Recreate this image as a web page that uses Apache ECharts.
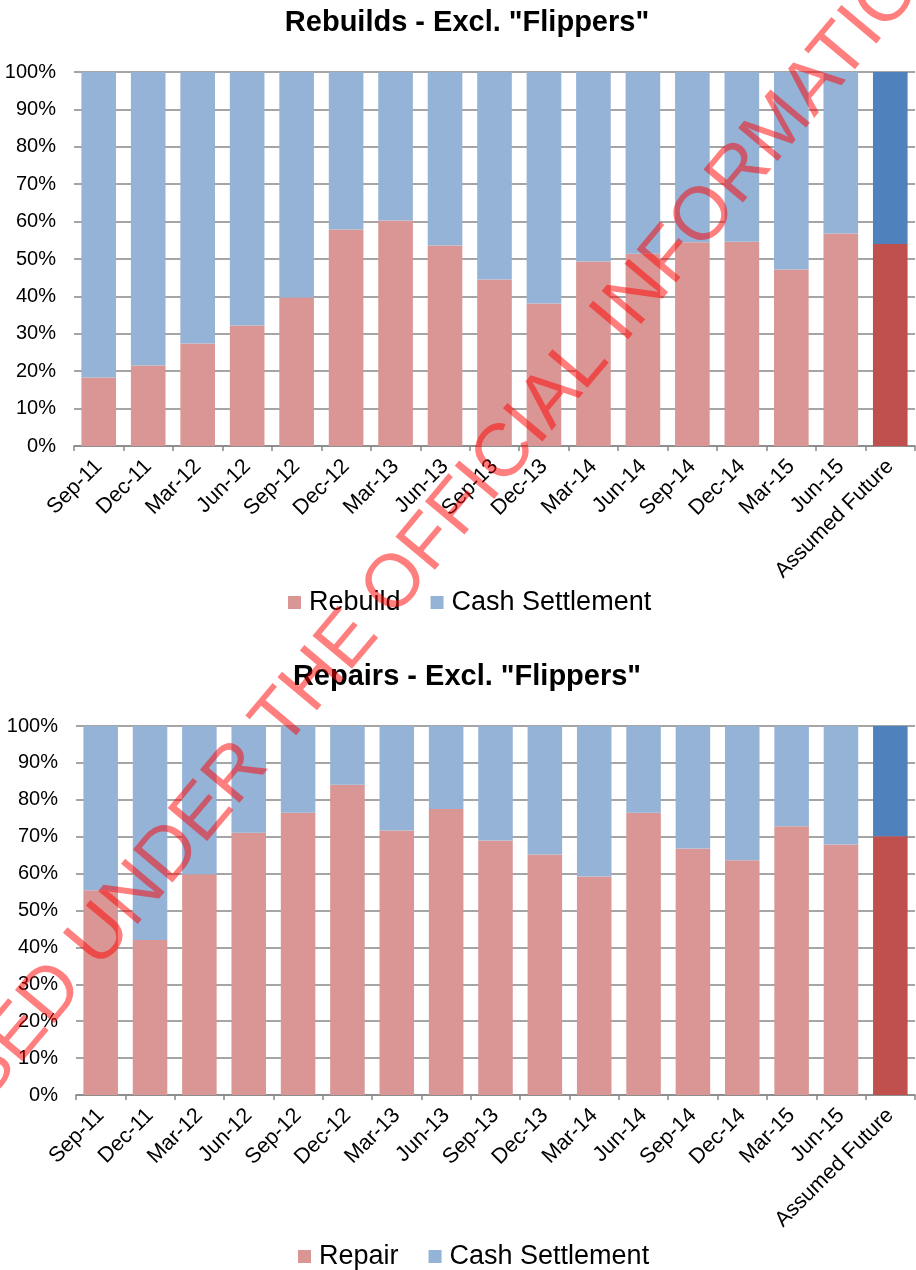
<!DOCTYPE html>
<html>
<head>
<meta charset="utf-8">
<script src="https://cdn.jsdelivr.net/npm/echarts@6/dist/echarts.min.js"></script>
<style>
  html, body { margin: 0; padding: 0; background: #fff; }
  #chart { width: 916px; height: 1270px; }
</style>
</head>
<body>
<div id="chart"></div>
<script>
// Quarter labels shared by both panels
const quarters = ['Sep-11', 'Dec-11', 'Mar-12', 'Jun-12', 'Sep-12', 'Dec-12', 'Mar-13', 'Jun-13',
  'Sep-13', 'Dec-13', 'Mar-14', 'Jun-14', 'Sep-14', 'Dec-14', 'Mar-15', 'Jun-15', 'Assumed Future'];

// Rebuild claims: share settled by rebuild vs cash (%)
const rebuildShare = [18.3, 21.5, 27.4, 32.2, 39.7, 57.9, 60.3, 53.6, 44.5, 38.1, 49.3, 51.4, 54.5, 54.6, 47.2, 56.8, 54.0];
const rebuildCash  = [81.7, 78.5, 72.6, 67.8, 60.3, 42.1, 39.7, 46.4, 55.5, 61.9, 50.7, 48.6, 45.5, 45.4, 52.8, 43.2, 46.0];

// Repair claims: share settled by repair vs cash (%)
const repairShare = [55.5, 42.0, 59.8, 71.1, 76.5, 84.1, 71.7, 77.5, 69.0, 65.2, 59.2, 76.5, 66.8, 63.6, 72.8, 67.9, 70.1];
const repairCash  = [44.5, 58.0, 40.2, 28.9, 23.5, 15.9, 28.3, 22.5, 31.0, 34.8, 40.8, 23.5, 33.2, 36.4, 27.2, 32.1, 29.9];

const yTicks = { min: 0, max: 100, interval: 10 };

const RED = '#D99694', BLUE = '#95B3D7';
const RED_DARK = '#C0504D', BLUE_DARK = '#4F81BD';
const FONT = 'Liberation Sans, Arial, sans-serif';

// The last column (assumption) is drawn in stronger colours
function styled(values, base, strong) {
  return values.map((v, i) => i === values.length - 1
    ? { value: v, itemStyle: { color: strong } }
    : { value: v, itemStyle: { color: base } });
}

function xAxis(gridIndex) {
  return {
    type: 'category', gridIndex, data: quarters,
    axisLine: { lineStyle: { color: '#868686', width: 1.5 } },
    axisTick: { show: true, length: 5, lineStyle: { color: '#868686', width: 1.5 } },
    axisLabel: { rotate: 45, color: '#000', fontSize: 21.5, fontFamily: FONT, margin: 17, interval: 0 }
  };
}
function yAxis(gridIndex) {
  return {
    type: 'value', gridIndex, min: yTicks.min, max: yTicks.max, interval: yTicks.interval,
    axisLine: { show: false }, axisTick: { show: false },
    axisLabel: { formatter: '{value}%', color: '#000', fontSize: 20, fontFamily: FONT, margin: 18 },
    splitLine: { lineStyle: { color: '#878787', width: 1.6 } }
  };
}

const legendText = { fontSize: 27, color: '#000', fontFamily: FONT, padding: [0, 0, 0, 3] };

const chart = echarts.init(document.getElementById('chart'), null, { renderer: 'canvas' });
chart.setOption({
  animation: false,
  backgroundColor: '#fff',
  title: [
    { text: 'Rebuilds - Excl. "Flippers"', left: 462, top: 3, textAlign: 'center',
      textStyle: { fontSize: 29, fontWeight: 'bold', color: '#000', fontFamily: FONT } },
    { text: 'Repairs - Excl. "Flippers"', left: 462, top: 657, textAlign: 'center',
      textStyle: { fontSize: 29, fontWeight: 'bold', color: '#000', fontFamily: FONT } }
  ],
  legend: [
    { data: [{ name: 'Rebuild', itemStyle: { color: RED } }, { name: 'Cash Settlement', itemStyle: { color: BLUE } }],
      left: 283, top: 584, itemWidth: 13, itemHeight: 13, itemGap: 30, icon: 'rect',
      textStyle: legendText },
    { data: [{ name: 'Repair', itemStyle: { color: RED } }, { name: 'Cash Settlement ', itemStyle: { color: BLUE } }],
      left: 293, top: 1238, itemWidth: 13, itemHeight: 13, itemGap: 30, icon: 'rect',
      textStyle: legendText,
      formatter: n => n.trim() }
  ],
  grid: [
    { left: 74, top: 72, width: 841, height: 374 },
    { left: 76, top: 726, width: 839, height: 369 }
  ],
  xAxis: [xAxis(0), xAxis(1)],
  yAxis: [yAxis(0), yAxis(1)],
  series: [
    { name: 'Rebuild', type: 'bar', stack: 'a', xAxisIndex: 0, yAxisIndex: 0, barWidth: '70%',
      itemStyle: { color: RED }, data: styled(rebuildShare, RED, RED_DARK) },
    { name: 'Cash Settlement', type: 'bar', stack: 'a', xAxisIndex: 0, yAxisIndex: 0, barWidth: '70%',
      itemStyle: { color: BLUE }, data: styled(rebuildCash, BLUE, BLUE_DARK) },
    { name: 'Repair', type: 'bar', stack: 'b', xAxisIndex: 1, yAxisIndex: 1, barWidth: '70%',
      itemStyle: { color: RED }, data: styled(repairShare, RED, RED_DARK) },
    { name: 'Cash Settlement ', type: 'bar', stack: 'b', xAxisIndex: 1, yAxisIndex: 1, barWidth: '70%',
      itemStyle: { color: BLUE }, data: styled(repairCash, BLUE, BLUE_DARK) }
  ],
  graphic: [
    { type: 'text', x: 432, y: 541, rotation: 50 * Math.PI / 180, z: 100, silent: true,
      style: { text: 'RELEASED UNDER THE OFFICIAL INFORMATION ACT', fill: 'rgba(255,0,0,0.5)',
        font: '75px ' + FONT, align: 'center', verticalAlign: 'middle' } }
  ]
});
</script>
</body>
</html>
